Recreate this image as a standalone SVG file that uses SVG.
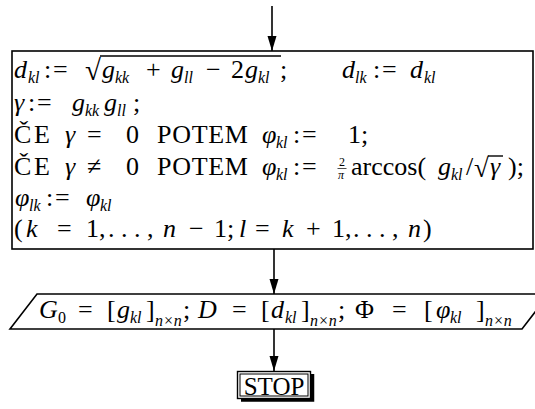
<svg xmlns="http://www.w3.org/2000/svg" width="535" height="409" viewBox="0 0 535 409">
<style>
.t{font-family:"Liberation Serif","Times New Roman",serif;font-size:26px;fill:#000}
.i{font-style:italic}
.s{font-size:16px;font-style:italic}
.u{font-size:16px;font-style:normal}
.box{fill:#fff;stroke:#000;stroke-width:1.6}
.ln{stroke:#000;stroke-width:1.4;fill:none}
.cn{stroke:#000;stroke-width:1.6;fill:none}
</style>
<defs>
<marker id="arr" markerUnits="userSpaceOnUse" markerWidth="15" markerHeight="10" refX="15" refY="5" orient="auto" viewBox="0 0 15 10">
<path d="M0,0.5 L15,5 L0,9.5 z" fill="#000"/>
</marker>
</defs>

<g id="connectors">
<line class="cn" x1="272" y1="6" x2="272" y2="51" marker-end="url(#arr)"/>
<line class="cn" x1="274" y1="249" x2="274" y2="294" marker-end="url(#arr)"/>
<line class="cn" x1="274" y1="329" x2="274" y2="371" marker-end="url(#arr)"/>
</g>

<g id="process">
<rect class="box" x="12" y="51" width="521" height="198"/>
<text class="t">
<tspan class="i" x="14" y="78">d</tspan><tspan class="s" x="28" y="83">kl</tspan><tspan x="44" y="78">:</tspan><tspan x="53" y="78">=</tspan>
<tspan x="85" y="80" style="font-size:29px">√</tspan>
<tspan class="i" x="102" y="78">g</tspan><tspan class="s" x="115" y="83">kk</tspan><tspan x="146" y="78">+</tspan>
<tspan class="i" x="171" y="78">g</tspan><tspan class="s" x="184" y="83">ll</tspan><tspan x="206" y="78">−</tspan>
<tspan x="231" y="78">2</tspan><tspan class="i" x="245" y="78">g</tspan><tspan class="s" x="258" y="83">kl</tspan><tspan x="280" y="78">;</tspan>
<tspan class="i" x="342" y="78">d</tspan><tspan class="s" x="355" y="83">lk</tspan><tspan x="373" y="78">:</tspan><tspan x="382" y="78">=</tspan>
<tspan class="i" x="410" y="78">d</tspan><tspan class="s" x="424" y="83">kl</tspan>
</text>
<line class="ln" x1="100" y1="56" x2="281" y2="56"/>
<text class="t">
<tspan class="i" x="14" y="111">γ</tspan><tspan x="28" y="111">:</tspan><tspan x="37" y="111">=</tspan>
<tspan class="i" x="72" y="111">g</tspan><tspan class="s" x="85" y="116">kk</tspan><tspan class="i" x="104" y="111">g</tspan><tspan class="s" x="117" y="116">ll</tspan><tspan x="133" y="111">;</tspan>
</text>
<text class="t">
<tspan x="14" y="143">Č</tspan><tspan x="34" y="143">E</tspan><tspan class="i" x="65" y="143">γ</tspan><tspan x="87" y="143">=</tspan><tspan x="126" y="143">0</tspan>
<tspan x="157" y="143" letter-spacing="0.7">POTEM</tspan>
<tspan class="i" x="262" y="143">φ</tspan><tspan class="s" x="276" y="148">kl</tspan><tspan x="293" y="143">:</tspan><tspan x="302" y="143">=</tspan>
<tspan x="348" y="143">1;</tspan>
</text>
<text class="t">
<tspan x="14" y="175">Č</tspan><tspan x="34" y="175">E</tspan><tspan class="i" x="65" y="175">γ</tspan><tspan x="87" y="175">≠</tspan><tspan x="126" y="175">0</tspan>
<tspan x="157" y="175" letter-spacing="0.7">POTEM</tspan>
<tspan class="i" x="262" y="175">φ</tspan><tspan class="s" x="276" y="180">kl</tspan><tspan x="293" y="175">:</tspan><tspan x="302" y="175">=</tspan>
<tspan x="339" y="166" style="font-size:12px">2</tspan><tspan class="i" x="338" y="179" style="font-size:12px">π</tspan>
<tspan x="351" y="175">arccos(</tspan><tspan class="i" x="438" y="175">g</tspan><tspan class="s" x="451" y="180">kl</tspan><tspan x="466" y="175">/</tspan>
<tspan x="474" y="177" style="font-size:27px">√</tspan><tspan class="i" x="490" y="175">γ</tspan><tspan x="508" y="175">);</tspan>
</text>
<line x1="337.5" y1="168.5" x2="346.5" y2="168.5" stroke="#000" stroke-width="0.7"/>
<line class="ln" x1="488" y1="156" x2="503" y2="156"/>
<text class="t">
<tspan class="i" x="15" y="206">φ</tspan><tspan class="s" x="29" y="211">lk</tspan><tspan x="46" y="206">:</tspan><tspan x="55" y="206">=</tspan>
<tspan class="i" x="86" y="206">φ</tspan><tspan class="s" x="100" y="211">kl</tspan>
</text>
<text class="t">
<tspan x="14" y="237">(</tspan><tspan class="i" x="26" y="237">k</tspan><tspan x="57" y="237">=</tspan><tspan x="86" y="237">1,</tspan><tspan x="108" y="237">. . . ,</tspan>
<tspan class="i" x="163" y="237">n</tspan><tspan x="189" y="237">−</tspan><tspan x="214" y="237">1;</tspan><tspan class="i" x="239" y="237">l</tspan><tspan x="255" y="237">=</tspan>
<tspan class="i" x="282" y="237">k</tspan><tspan x="306" y="237">+</tspan><tspan x="332" y="237">1,</tspan><tspan x="353" y="237">. . . ,</tspan><tspan class="i" x="408" y="237">n</tspan><tspan x="423" y="237">)</tspan>
</text>
</g>

<g id="output">
<polygon class="box" points="37,294 549,294 522,329 10,329"/>
<text class="t">
<tspan class="i" x="39" y="318">G</tspan><tspan class="u" x="58" y="323">0</tspan><tspan x="78" y="318">=</tspan>
<tspan x="107" y="318">[</tspan><tspan class="i" x="117" y="318">g</tspan><tspan class="s" x="130" y="323">kl</tspan><tspan x="146" y="318">]</tspan><tspan class="s" x="155" y="326">n×n</tspan><tspan x="183" y="318">;</tspan>
<tspan class="i" x="198" y="318">D</tspan><tspan x="232" y="318">=</tspan>
<tspan x="261" y="318">[</tspan><tspan class="i" x="271" y="318">d</tspan><tspan class="s" x="285" y="323">kl</tspan><tspan x="301" y="318">]</tspan><tspan class="s" x="310" y="326">n×n</tspan><tspan x="338" y="318">;</tspan>
<tspan x="355" y="318">Φ</tspan><tspan x="392" y="318">=</tspan>
<tspan x="424" y="318">[</tspan><tspan class="i" x="436" y="318">φ</tspan><tspan class="s" x="450" y="323">kl</tspan><tspan x="476" y="318">]</tspan><tspan class="s" x="485" y="326">n×n</tspan>
</text>
</g>

<g id="stop">
<rect x="237.5" y="371.5" width="73" height="27" fill="#fff" stroke="#000" stroke-width="1.4"/>
<rect x="240" y="374" width="68" height="22" fill="none" stroke="#000" stroke-width="1"/>
<path d="M241,400 H312.5 V374" fill="none" stroke="#000" stroke-width="3.5"/>
<text class="t" x="274" y="395" text-anchor="middle" style="font-size:25px">STOP</text>
</g>
</svg>
